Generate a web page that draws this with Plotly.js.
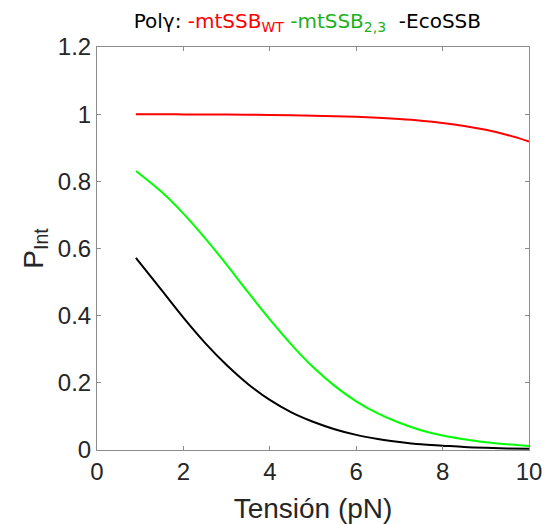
<!DOCTYPE html>
<html>
<head>
<meta charset="utf-8">
<script src="https://cdn.plot.ly/plotly-3.0.1.min.js"></script>
<style>html,body{margin:0;padding:0;background:#fff;}#chart{width:544px;height:524px;}</style>
</head>
<body>
<div id="chart"></div>
<script>
// Tension (pN)
const tension = [0.9, 1.5, 2, 2.5, 3, 3.5, 4, 4.5, 5, 5.5, 6, 6.5, 7, 7.5, 8, 8.5, 9, 9.5, 10];
// P_Int values
const mtSSB_WT = [0.9996, 0.9995, 0.9993, 0.9990, 0.9987, 0.9982, 0.9976, 0.9967, 0.9956, 0.9941, 0.9920, 0.9892, 0.9855, 0.9806, 0.9739, 0.9651, 0.9535, 0.9382, 0.9184];
const mtSSB_23 = [0.831, 0.768, 0.704, 0.631, 0.552, 0.469, 0.389, 0.314, 0.247, 0.191, 0.145, 0.109, 0.081, 0.059, 0.043, 0.032, 0.023, 0.017, 0.012];
const EcoSSB = [0.572, 0.475, 0.394, 0.319, 0.253, 0.196, 0.149, 0.112, 0.084, 0.062, 0.045, 0.033, 0.024, 0.017, 0.013, 0.0091, 0.0066, 0.0048, 0.0034];
const xTicks = [0, 2, 4, 6, 8, 10];
const yTicks = [0, 0.2, 0.4, 0.6, 0.8, 1, 1.2];
const yTickText = ['0', '0.2', '0.4', '0.6', '0.8', '1', '1.2'];

const traces = [
  {x: tension, y: mtSSB_WT, mode: 'lines', line: {color: '#ff0000', width: 2, shape: 'spline'}, hoverinfo: 'skip'},
  {x: tension, y: mtSSB_23, mode: 'lines', line: {color: '#00ff00', width: 2, shape: 'spline'}, hoverinfo: 'skip'},
  {x: tension, y: EcoSSB, mode: 'lines', line: {color: '#000000', width: 2, shape: 'spline'}, hoverinfo: 'skip'}
];

const axisCommon = {
  showgrid: false, zeroline: false, showline: true, linecolor: '#8c8c8c', linewidth: 1,
  mirror: 'allticks', ticks: 'inside', ticklen: 4, tickcolor: '#8c8c8c', tickwidth: 1,
  tickfont: {family: 'Liberation Sans, Arial, sans-serif', size: 24, color: '#262626'}
};

const layout = {
  width: 544, height: 524,
  margin: {l: 97, r: 15, t: 47, b: 74},
  paper_bgcolor: '#fff', plot_bgcolor: '#fff',
  showlegend: false,
  title: {
    text: 'Polγ: <span style="color:#ff0000">-mtSSB<sub>WT</sub></span> <span style="color:#1db01d">-mtSSB<sub>2,3</sub></span>&nbsp;&nbsp;-EcoSSB',
    font: {family: 'DejaVu Sans, sans-serif', size: 20, color: '#000'},
    x: 0.565, xanchor: 'center', y: 0.96, yanchor: 'middle'
  },
  xaxis: Object.assign({}, axisCommon, {
    range: [0, 10], tickvals: xTicks, ticktext: xTicks.map(String),
    title: {text: 'Tensión (pN)', font: {family: 'Liberation Sans, Arial, sans-serif', size: 28, color: '#262626'}, standoff: 14}
  }),
  yaxis: Object.assign({}, axisCommon, {
    range: [0, 1.2], tickvals: yTicks, ticktext: yTickText,
    title: {text: 'P<sub>Int</sub>', font: {family: 'Liberation Sans, Arial, sans-serif', size: 28, color: '#262626'}, standoff: 6}
  })
};

Plotly.newPlot('chart', traces, layout, {displayModeBar: false, staticPlot: true});
</script>
</body>
</html>
